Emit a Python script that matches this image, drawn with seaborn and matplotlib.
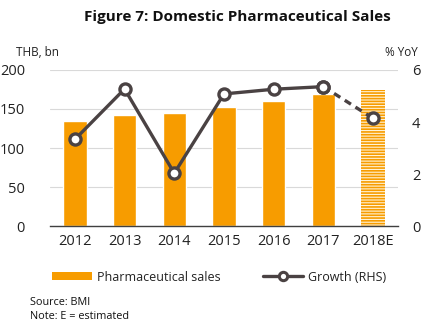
import matplotlib
matplotlib.use("Agg")
import matplotlib.pyplot as plt
import seaborn as sns
import pandas as pd
from matplotlib.patches import Patch
from matplotlib.lines import Line2D

years = ["2012", "2013", "2014", "2015", "2016", "2017", "2018E"]
sales = [135, 142, 145, 153, 160, 169, 174]
growth = [3.33, 5.27, 2.03, 5.08, 5.26, 5.36, 4.14]
left_ticks = [0, 50, 100, 150, 200]
right_ticks = [0, 2, 4, 6]

sns.set_theme(style="white")
plt.rcParams["font.family"] = ["Open Sans", "DejaVu Sans"]
plt.rcParams["hatch.linewidth"] = 1.2

ORANGE = "#f79c00"
LINE = "#4a4243"
TXT = "#222222"

df = pd.DataFrame({"year": years, "sales": sales, "growth": growth})

fig = plt.figure(figsize=(4.4, 3.33), dpi=100)
ax = fig.add_axes([0.1136, 0.3213, 0.7909, 0.4685])

sns.barplot(data=df, x="year", y="sales", color=ORANGE, width=0.47,
            saturation=1, ax=ax, order=years)
last = ax.patches[-1]
last.set_facecolor("#fff3d6")
last.set_edgecolor(ORANGE)
last.set_linewidth(0)
last.set_hatch("------")

ax.set_ylim(0, 200)
ax.set_yticks(left_ticks)
ax.set_xlim(-0.5, len(years) - 0.5)
ax.yaxis.grid(True, color="#d9d9d9", linewidth=0.8)
ax.set_axisbelow(True)
for s in ["top", "right", "left"]:
    ax.spines[s].set_visible(False)
ax.spines["bottom"].set_color("#404040")
ax.spines["bottom"].set_linewidth(1.0)
ax.set_xlabel("")
ax.set_ylabel("")
ax.tick_params(axis="both", length=0, labelsize=10.5, colors=TXT)
ax.tick_params(axis="y", pad=18)
ax.tick_params(axis="x", pad=6)

ax2 = ax.twinx()
solid = df.iloc[:6]
dashed = df.iloc[5:]
sns.lineplot(data=dashed, x="year", y="growth", ax=ax2, color=LINE,
             linewidth=2.4, linestyle=(0, (2.2, 1.6)), marker="o",
             markersize=8, markerfacecolor="white", markeredgecolor=LINE,
             markeredgewidth=2.4, sort=False)
sns.lineplot(data=solid, x="year", y="growth", ax=ax2, color=LINE,
             linewidth=2.4, marker="o", markersize=8,
             markerfacecolor="white", markeredgecolor=LINE,
             markeredgewidth=2.4, sort=False)
ax2.set_ylim(0, 6)
ax2.set_yticks(right_ticks)
ax2.set_xlim(-0.5, len(years) - 0.5)
for s in ["top", "right", "left", "bottom"]:
    ax2.spines[s].set_visible(False)
ax2.set_xlabel("")
ax2.set_ylabel("")
ax2.tick_params(axis="y", length=0, labelsize=10.5, colors=TXT, pad=10)
ax2.grid(False)

fig.text(0.539, 0.948, "Figure 7: Domestic Pharmaceutical Sales",
         ha="center", va="center", fontsize=11, fontweight="bold", color="#111111")
fig.text(0.036, 0.843, "THB, bn", ha="left", va="center", fontsize=8.5, color=TXT)
fig.text(0.95, 0.843, "% YoY", ha="right", va="center", fontsize=8.5, color=TXT)

handles = [Patch(facecolor=ORANGE, edgecolor="none"),
           Line2D([0], [0], color=LINE, linewidth=2.4, marker="o", markersize=6,
                  markerfacecolor="white", markeredgecolor=LINE, markeredgewidth=2.2)]
fig.legend(handles, ["Pharmaceutical sales", "Growth (RHS)"], loc="center",
           bbox_to_anchor=(0.497, 0.168), ncol=2, frameon=False, fontsize=9,
           handlelength=3.2, handleheight=0.6, columnspacing=3.4, handletextpad=0.4,
           labelcolor=TXT)

fig.text(0.068, 0.091, "Source: BMI", ha="left", va="center", fontsize=7.8, color="#111111")
fig.text(0.068, 0.050, "Note: E = estimated", ha="left", va="center", fontsize=7.8, color="#111111")

fig.savefig("out.png", dpi=100)
